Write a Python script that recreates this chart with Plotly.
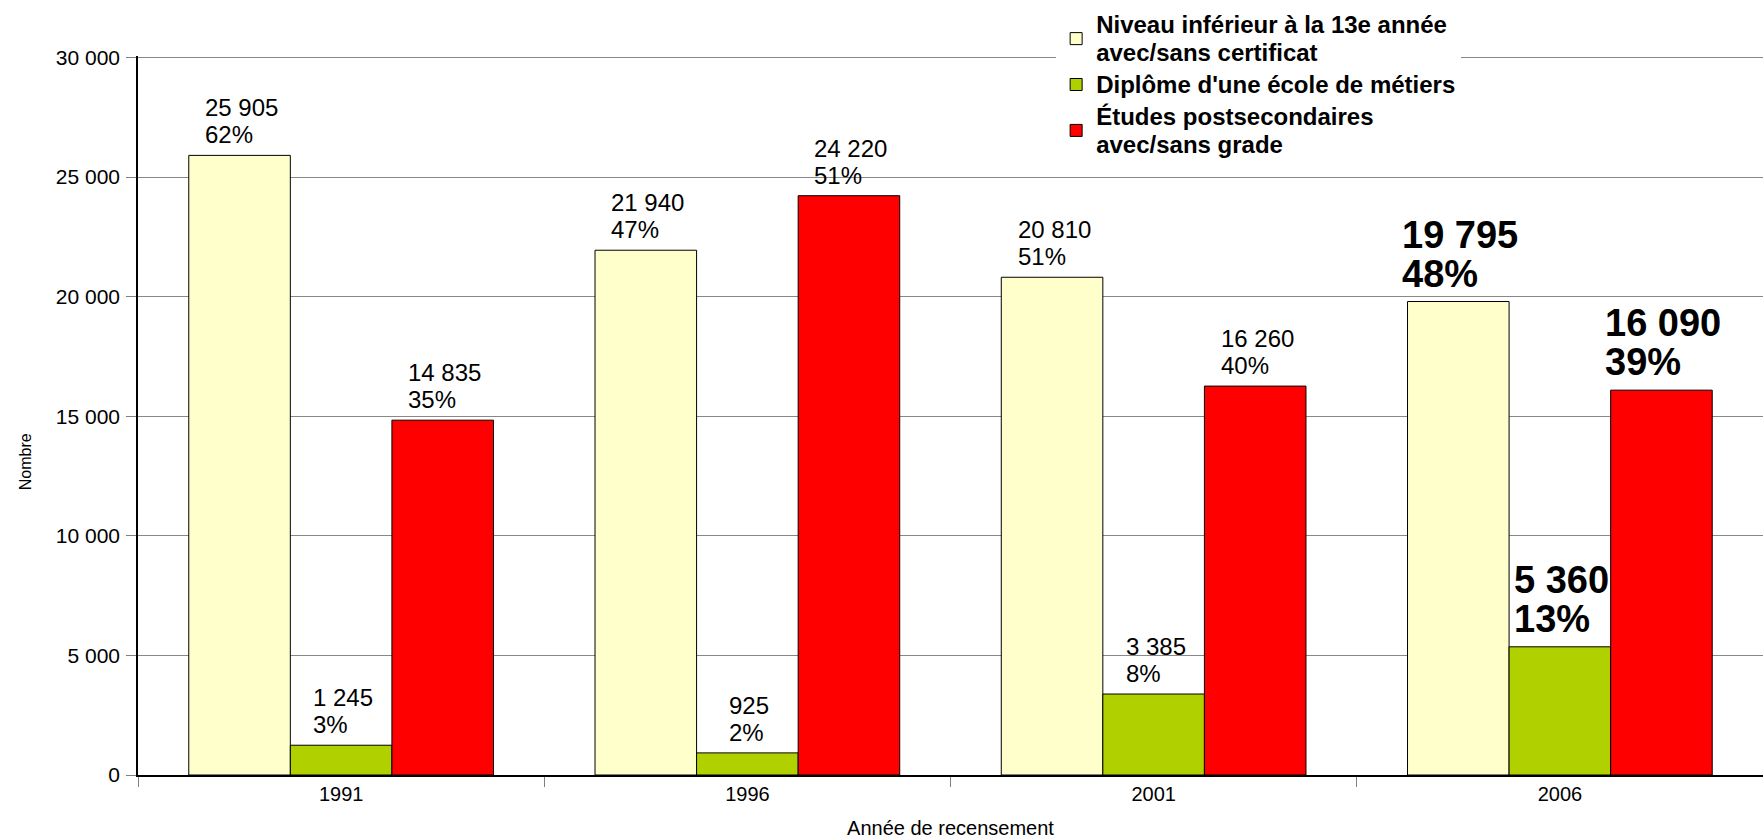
import plotly.graph_objects as go

years = ["1991", "1996", "2001", "2006"]
series_names = [
    "Niveau inférieur à la 13e année<br>avec/sans certificat",
    "Diplôme d'une école de métiers",
    "Études postsecondaires<br>avec/sans grade",
]
niveau = [25905, 21940, 20810, 19795]
diplome = [1245, 925, 3385, 5360]
etudes = [14835, 24220, 16260, 16090]
pct_niveau = [62, 47, 51, 48]
pct_diplome = [3, 2, 8, 13]
pct_etudes = [35, 51, 40, 39]
colors = ["#FFFFCC", "#B0D000", "#FF0000"]
y_ticks = [0, 5000, 10000, 15000, 20000, 25000, 30000]

values = [niveau, diplome, etudes]
pcts = [pct_niveau, pct_diplome, pct_etudes]

FONT = "Liberation Sans, Arial, sans-serif"


def legend_label(name):
    return "<br>".join(f'<span style="font-size:24px">{part}</span>' for part in name.split("<br>"))


fig = go.Figure()
for name, vals, col in zip(series_names, values, colors):
    fig.add_trace(go.Bar(
        x=years, y=vals, name=legend_label(name),
        marker=dict(color=col, line=dict(color="#000000", width=1)),
    ))


def fmt(v):
    return f"{v:,}".replace(",", " ")


annotations = []
for j, (vals, pc) in enumerate(zip(values, pcts)):
    for i, (v, p) in enumerate(zip(vals, pc)):
        last = (i == len(years) - 1)
        big = 38 if last else 24
        base = 30 if last else 21
        annotations.append(dict(
            x=i + (j - 1) * 0.25, y=v, xref="x", yref="y",
            text=(f'<span style="font-size:{big}px">{fmt(v)}</span><br>'
                  f'<span style="font-size:{big}px">{p}%</span>'),
            showarrow=False, xanchor="center", yanchor="bottom", align="left",
            xshift=2,
            yshift=5,
            font=dict(family=FONT, size=base, color="#000000",
                      weight="bold" if last else "normal"),
        ))

annotations.append(dict(
    x=-0.0695, y=0.435, xref="paper", yref="paper",
    text="Nombre", textangle=-90, showarrow=False,
    xanchor="center", yanchor="middle",
    font=dict(family=FONT, size=16, color="#000000"),
))

fig.update_layout(
    width=1763, height=839,
    margin=dict(l=138, r=0, t=56, b=64),
    paper_bgcolor="white", plot_bgcolor="white",
    barmode="group", bargap=0.25, bargroupgap=0,
    separators=", ",
    font=dict(family=FONT, size=20, color="#000000"),
    annotations=annotations,
    showlegend=True,
    legend=dict(
        x=0.565, xanchor="left", y=1.073, yanchor="top",
        bgcolor="white", borderwidth=0,
        font=dict(family=FONT, size=22, color="#000000", weight="bold"),
        traceorder="normal",
    ),
    xaxis=dict(
        type="category", categoryorder="array", categoryarray=years,
        tickson="boundaries", ticks="outside", ticklen=10, tickcolor="#808080",
        showline=True, linecolor="#000000", linewidth=2,
        showgrid=False,
        tickfont=dict(family=FONT, size=20),
        title=dict(text="Année de recensement", font=dict(family=FONT, size=20), standoff=18),
    ),
    yaxis=dict(
        range=[0, 30060], tickvals=y_ticks, tickformat=",d",
        ticks="outside", ticklen=10, tickcolor="#808080",
        ticklabelstandoff=2,
        showline=True, linecolor="#000000", linewidth=1.5,
        showgrid=True, gridcolor="#888888", gridwidth=1,
        zeroline=False,
        tickfont=dict(family=FONT, size=21),
    ),
)

fig.write_html("out.html")
